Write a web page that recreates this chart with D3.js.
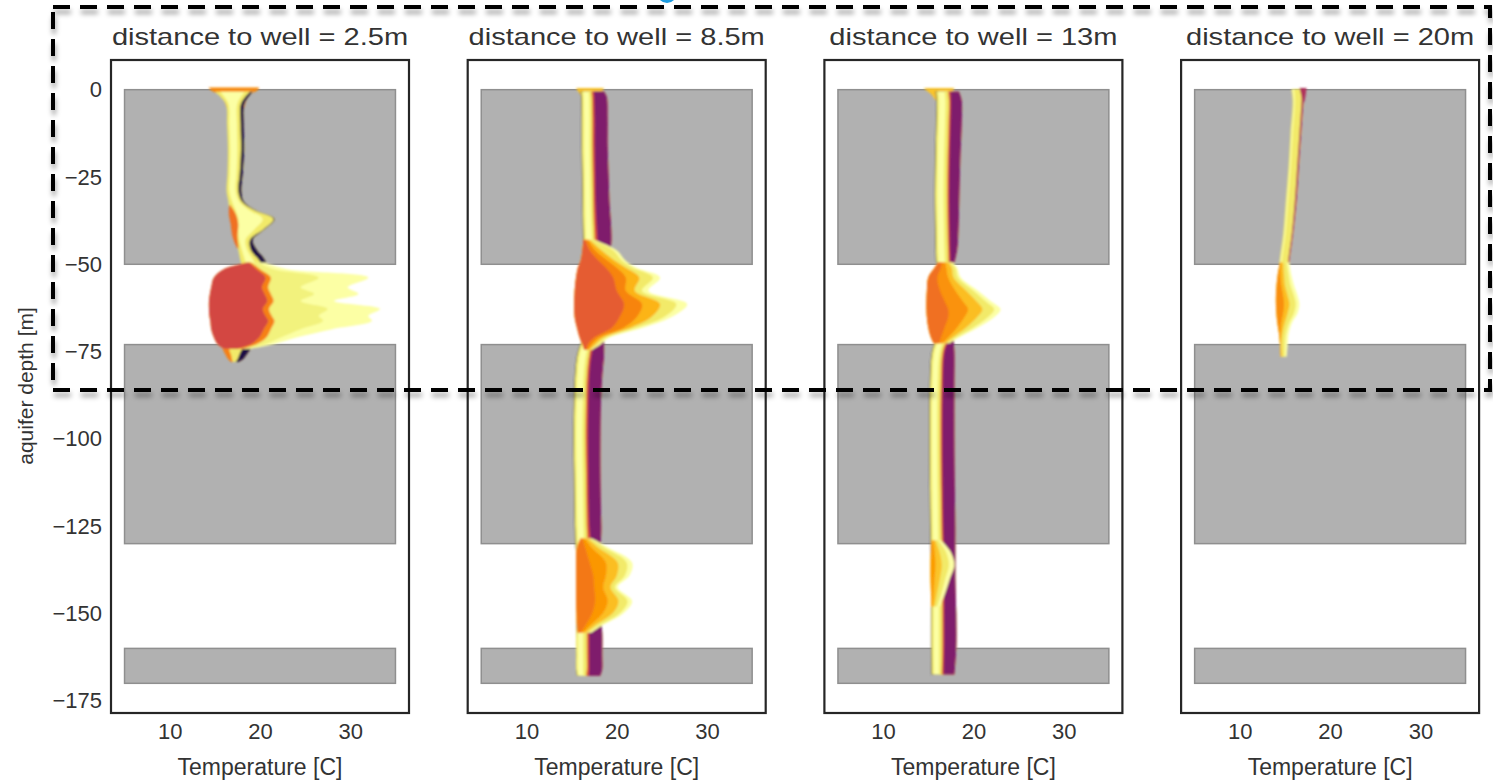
<!DOCTYPE html>
<html>
<head>
<meta charset="utf-8">
<script src="https://cdn.jsdelivr.net/npm/d3@7"></script>
<style>
  body { margin: 0; background: #fff; }
  svg { display: block; font-family: "Liberation Sans", Arial, sans-serif; }
</style>
</head>
<body>
<svg id="chart" width="1493" height="780"></svg>
<script>
// ---- data (temperature in C, depth in m) ----
const distances = ["2.5m", "8.5m", "13m", "20m"];
const clayLayers = [[0, -50], [-73, -130], [-160, -170]];
const depthTicks = [0, -25, -50, -75, -100, -125, -150, -175];
const tempTicks = [10, 20, 30];

// rows: [depth, edge0, edge1, ...]
// panel 1 (2.5 m)
const p1Flare = [[0.6, 14.3, 19.9], [0, 14.5, 19.8], [-1.2, 15.3, 19.0], [-3, 16.0, 18.5], [-5, 16.3, 18.3]];
const p1Column = [
  [-0.6, 15.0, 15.6, 18.3, 18.9, 19.2],
  [-4, 16.2, 16.5, 17.5, 17.9, 18.3],
  [-10, 16.35, 16.6, 17.45, 17.85, 18.2],
  [-17, 16.45, 16.7, 17.5, 17.9, 18.25],
  [-24, 16.4, 16.65, 17.4, 17.75, 18.1],
  [-29, 16.3, 16.6, 17.3, 17.6, 17.95],
  [-32, 16.5, 16.9, 17.7, 18.0, 18.2],
  [-34.5, 16.6, 17.3, 18.8, 19.4, 19.5],
  [-37, 16.8, 17.6, 20.3, 21.5, 21.6],
  [-40, 17.0, 17.6, 19.4, 20.4, 20.5],
  [-43, 17.3, 17.7, 18.4, 18.9, 19.2],
  [-46, 17.6, 18.0, 18.6, 19.0, 19.7],
  [-48.5, 17.8, 18.3, 19.2, 19.8, 20.5],
  [-50.5, 18.0, 18.6, 19.6, 20.3, 20.8]
];
const p1Patch = [[-33, 16.6, 16.7], [-35.5, 16.55, 17.3], [-38.5, 16.75, 17.6], [-42, 16.95, 17.5], [-44.5, 17.3, 17.6], [-45.5, 17.5, 17.6]];
const p1Blob = [
  [-49.5, 18.6, 18.8, 19.0, 19.8, 20.5],
  [-51.4, 16.0, 19.6, 20.0, 21.5, 23.0],
  [-53.8, 14.9, 20.6, 21.2, 26.5, 32.0],
  [-56.6, 14.6, 20.2, 20.9, 24.5, 29.7],
  [-58.5, 14.45, 20.5, 21.2, 26.0, 30.9],
  [-60.5, 14.35, 20.8, 21.5, 24.5, 28.2],
  [-62.8, 14.35, 20.3, 21.0, 27.5, 33.3],
  [-64.8, 14.4, 20.6, 21.3, 26.5, 32.0],
  [-66.2, 14.5, 20.9, 21.6, 27.0, 32.4],
  [-68.6, 14.6, 20.4, 21.2, 24.5, 28.0],
  [-71.0, 14.9, 19.9, 20.7, 22.3, 24.0],
  [-72.9, 15.3, 19.0, 19.6, 20.6, 21.5],
  [-74.2, 16.0, 17.5, 18.0, 18.6, 19.0]
];
const p1Tail = [
  [-72.5, 15.6, 16.6, 19.0, 19.3],
  [-74.5, 15.9, 16.6, 18.0, 18.9],
  [-76, 16.2, 16.8, 17.7, 18.5],
  [-77.3, 16.5, 16.9, 17.5, 18.1],
  [-78, 16.8, 17.0, 17.3, 17.6]
];

// panel 2 (8.5 m)
const p2Flare = [[0.5, 15.5, 18.6], [0, 15.6, 18.5], [-1.5, 16.0, 17.8], [-3, 16.1, 17.6]];
const p2ColumnTop = [
  [-0.5, 16.0, 16.05, 16.3, 16.9, 17.2, 17.45, 18.6],
  [-2, 16.05, 16.1, 16.35, 16.95, 17.25, 17.5, 18.9],
  [-8, 16.1, 16.15, 16.4, 17.0, 17.3, 17.55, 19.0],
  [-16, 16.1, 16.15, 16.4, 17.0, 17.3, 17.55, 19.0],
  [-24, 16.15, 16.2, 16.45, 17.05, 17.35, 17.6, 19.1],
  [-32, 16.2, 16.25, 16.5, 17.1, 17.4, 17.65, 19.2],
  [-40, 16.25, 16.3, 16.55, 17.2, 17.5, 17.8, 19.4],
  [-44, 16.3, 16.35, 16.6, 17.3, 17.6, 17.9, 19.4],
  [-47, 16.3, 16.35, 16.6, 17.4, 17.8, 18.1, 19.2],
  [-48.5, 16.3, 16.35, 16.6, 17.5, 17.9, 18.3, 18.9]
];
const p2Blob = [
  [-43, 16.3, 16.5, 16.8, 17.0, 17.3, 17.5],
  [-46, 16.2, 17.0, 17.6, 18.3, 19.6, 20.0],
  [-49, 16.0, 18.0, 19.0, 19.8, 20.6, 21.0],
  [-51, 15.7, 18.8, 20.0, 21.0, 21.8, 22.2],
  [-53.8, 15.5, 19.6, 21.0, 22.5, 24.0, 24.8],
  [-57.6, 15.35, 20.0, 21.0, 22.0, 22.8, 23.5],
  [-61.4, 15.3, 20.8, 22.8, 24.8, 26.6, 27.8],
  [-65.2, 15.35, 20.3, 22.2, 23.8, 25.2, 26.0],
  [-68.1, 15.6, 19.5, 20.8, 21.6, 22.3, 23.0],
  [-71, 15.9, 17.5, 18.0, 18.5, 18.9, 19.2],
  [-73, 16.2, 16.8, 17.2, 17.6, 18.0, 18.2],
  [-74.5, 16.4, 16.6, 16.8, 17.0, 17.2, 17.3]
];
const p2ColumnMid = [
  [-72, 16.1, 16.15, 16.4, 17.0, 17.3, 17.6, 18.6],
  [-76, 15.6, 15.65, 15.9, 16.6, 16.95, 17.2, 18.6],
  [-82, 15.35, 15.4, 15.65, 16.35, 16.7, 16.95, 18.4],
  [-90, 15.25, 15.3, 15.55, 16.25, 16.6, 16.85, 18.25],
  [-100, 15.2, 15.25, 15.5, 16.2, 16.55, 16.8, 18.2],
  [-110, 15.25, 15.3, 15.55, 16.25, 16.6, 16.85, 18.2],
  [-120, 15.3, 15.35, 15.6, 16.3, 16.65, 16.9, 18.25],
  [-126, 15.35, 15.4, 15.65, 16.35, 16.7, 17.0, 18.3],
  [-130, 15.4, 15.45, 15.7, 16.4, 16.8, 17.2, 18.2],
  [-132, 15.5, 15.55, 15.8, 16.5, 16.9, 17.5, 18.0]
];
const p2Blob2 = [
  [-128.5, 16.0, 16.2, 16.5, 16.8, 17.1, 17.3],
  [-131, 15.6, 16.5, 17.2, 17.9, 18.6, 19.0],
  [-135.4, 15.5, 17.0, 18.8, 20.1, 21.1, 21.7],
  [-139.2, 15.5, 17.4, 18.8, 20.0, 20.9, 21.4],
  [-142.5, 15.5, 17.5, 18.5, 19.3, 19.8, 20.1],
  [-146.4, 15.5, 17.6, 19.0, 20.2, 21.2, 21.7],
  [-149.8, 15.55, 17.3, 18.5, 19.6, 20.4, 20.8],
  [-153.6, 15.6, 16.5, 17.0, 17.5, 18.0, 18.3],
  [-155.5, 15.7, 16.0, 16.3, 16.6, 16.9, 17.2]
];
const p2ColumnLow = [
  [-151, 15.6, 15.6, 15.8, 16.4, 16.75, 17.0, 18.3],
  [-156, 15.5, 15.5, 15.7, 16.3, 16.7, 16.95, 18.4],
  [-162, 15.5, 15.5, 15.7, 16.3, 16.7, 16.95, 18.4],
  [-166, 15.5, 15.5, 15.7, 16.3, 16.7, 16.95, 18.4],
  [-167.8, 15.6, 15.6, 15.8, 16.3, 16.6, 16.9, 18.2]
];

// panel 3 (13 m)
const p3Flare = [[0.5, 14.5, 17.9], [0, 14.7, 17.8], [-1.5, 15.4, 17.4], [-3, 15.8, 17.2]];
const p3ColumnTop = [
  [-0.5, 15.8, 15.85, 16.1, 16.8, 17.2, 17.45, 18.4],
  [-3, 15.9, 15.95, 16.2, 16.9, 17.3, 17.5, 18.7],
  [-10, 15.85, 15.9, 16.15, 16.85, 17.25, 17.45, 18.7],
  [-20, 15.75, 15.8, 16.05, 16.75, 17.15, 17.35, 18.55],
  [-30, 15.7, 15.75, 16.0, 16.7, 17.1, 17.3, 18.45],
  [-40, 15.75, 15.8, 16.05, 16.75, 17.15, 17.35, 18.35],
  [-46, 15.8, 15.85, 16.1, 16.8, 17.2, 17.4, 18.2],
  [-49.5, 15.85, 15.9, 16.15, 16.85, 17.25, 17.45, 17.9]
];
const p3Blob = [
  [-49.5, 16.1, 16.5, 16.9, 17.2, 17.5, 17.7],
  [-51, 15.7, 16.4, 17.0, 17.6, 18.0, 18.2],
  [-53.8, 15.0, 16.0, 17.2, 17.8, 18.3, 18.6],
  [-57.6, 14.85, 16.3, 18.0, 19.2, 20.0, 20.5],
  [-60.5, 14.8, 16.8, 18.8, 20.3, 21.3, 21.9],
  [-62.9, 14.8, 17.2, 19.4, 21.0, 22.3, 23.0],
  [-65.2, 14.85, 17.2, 19.0, 20.4, 21.6, 22.3],
  [-68.1, 15.0, 16.8, 18.2, 19.2, 20.0, 20.5],
  [-71, 15.3, 16.4, 17.2, 17.7, 18.1, 18.4],
  [-72.6, 15.6, 16.2, 16.6, 16.9, 17.2, 17.4]
];
const p3ColumnLow = [
  [-71.5, 15.9, 15.95, 16.2, 16.8, 17.1, 17.3, 17.8],
  [-75, 15.4, 15.45, 15.7, 16.3, 16.6, 16.8, 17.9],
  [-85, 15.15, 15.2, 15.45, 16.05, 16.4, 16.6, 17.9],
  [-100, 15.1, 15.15, 15.4, 16.0, 16.35, 16.55, 17.9],
  [-115, 15.15, 15.2, 15.45, 16.05, 16.4, 16.6, 17.95],
  [-125, 15.2, 15.25, 15.5, 16.1, 16.45, 16.65, 18.0],
  [-130, 15.25, 15.3, 15.55, 16.15, 16.5, 16.7, 18.0],
  [-140, 15.3, 15.35, 15.6, 16.2, 16.55, 16.75, 18.0],
  [-150, 15.3, 15.35, 15.6, 16.2, 16.55, 16.75, 18.1],
  [-160, 15.3, 15.35, 15.6, 16.2, 16.55, 16.75, 18.1],
  [-167.5, 15.35, 15.4, 15.65, 16.2, 16.5, 16.7, 17.9]
];
const p3Bump = [
  [-129, 15.4, 15.6, 15.8, 16.1, 16.4],
  [-132, 15.3, 15.7, 16.2, 16.9, 17.4],
  [-136, 15.25, 15.8, 16.5, 17.3, 17.9],
  [-140, 15.25, 15.7, 16.3, 16.9, 17.4],
  [-144, 15.3, 15.6, 16.0, 16.5, 16.9],
  [-148, 15.35, 15.5, 15.7, 16.0, 16.3]
];

// panel 4 (20 m)
const p4Column = [
  [0.2, 15.7, 15.8, 16.0, 16.9, 17.3],
  [-3, 15.85, 15.95, 16.1, 16.85, 17.1],
  [-12.7, 15.6, 15.7, 15.85, 16.6, 16.8],
  [-22, 15.4, 15.5, 15.65, 16.35, 16.55],
  [-31.6, 15.1, 15.2, 15.35, 16.1, 16.3],
  [-41.4, 14.8, 14.9, 15.05, 15.75, 15.9],
  [-48, 14.45, 14.55, 14.7, 15.4, 15.55],
  [-51.5, 14.3, 14.4, 14.55, 15.3, 15.4]
];
const p4Cap = [[0.5, 16.6, 17.4], [-1.5, 16.8, 17.3], [-3.5, 16.95, 17.15]];
const p4Blob = [
  [-49.5, 14.45, 14.55, 14.8, 15.2, 15.5],
  [-53, 14.2, 14.5, 14.9, 15.4, 15.7],
  [-56, 14.07, 14.6, 15.0, 15.6, 16.0],
  [-59, 14.0, 14.8, 15.3, 16.0, 16.4],
  [-61.4, 14.0, 14.9, 15.5, 16.2, 16.6],
  [-64, 14.05, 14.8, 15.3, 16.0, 16.4],
  [-66.6, 14.15, 14.6, 15.0, 15.5, 15.8],
  [-70, 14.35, 14.5, 14.7, 15.1, 15.4],
  [-73, 14.45, 14.5, 14.6, 15.0, 15.3],
  [-76.5, 14.55, 14.6, 14.7, 15.0, 15.2]
];

// ---- layout ----
const panelW = 298, panelStep = 356.7, panelX0 = 111;
const plotTop = 60, plotBottom = 713;

const x = d3.scaleLinear().domain([3.5, 36.5]).range([0, panelW]);
const y = d3.scaleLinear().domain([8.5, -178.5]).range([plotTop, plotBottom]);

// band colours come from the inferno map (time snapshots)
const clayLv = [0.1, 0.94, 1, 0.94, 0.6, 0.35];
const panels = [
  { label: distances[0], segs: [
    [p1Flare, "stack", [0.74]],
    [p1Column, "stack", [0.94, 1, 0.94, 0.12]],
    [p1Patch, "stack", [0.68]],
    [p1Tail, "stack", [0.72, 0.94, 0.12]],
    [p1Blob, "nest", [0.57, 0.72, 0.96, 1]]
  ]},
  { label: distances[1], segs: [
    [p2Flare, "stack", [0.86]],
    [p2ColumnTop, "stack", clayLv],
    [p2ColumnMid, "stack", clayLv],
    [p2ColumnLow, "stack", clayLv],
    [p2Blob, "nest", [0.63, 0.73, 0.83, 0.94, 1]],
    [p2Blob2, "nest", [0.7, 0.77, 0.85, 0.94, 1]]
  ]},
  { label: distances[2], segs: [
    [p3Flare, "stack", [0.86]],
    [p3ColumnTop, "stack", clayLv],
    [p3ColumnLow, "stack", clayLv],
    [p3Blob, "nest", [0.68, 0.76, 0.85, 0.94, 1]],
    [p3Bump, "nest", [0.78, 0.86, 0.94, 1]]
  ]},
  { label: distances[3], segs: [
    [p4Column, "stack", [0.94, 1, 0.94, 0.47]],
    [p4Cap, "stack", [0.47]],
    [p4Blob, "nest", [0.75, 0.85, 0.94, 1]]
  ]}
];

const svg = d3.select("#chart");
const defs = svg.append("defs");

// drop shadow for the dashed frame
defs.append("filter")
  .attr("id", "shadow").attr("x", "-2%").attr("y", "-5%").attr("width", "104%").attr("height", "115%")
  .append("feDropShadow")
  .attr("dx", 1).attr("dy", 5).attr("stdDeviation", 2.5)
  .attr("flood-color", "#000").attr("flood-opacity", 0.35);

// soft edges like the scanned figure
defs.append("filter")
  .attr("id", "soft").attr("x", "-20%").attr("y", "-5%").attr("width", "140%").attr("height", "110%")
  .append("feGaussianBlur").attr("stdDeviation", 0.8);

function drawSegment(g, rows, mode, levels) {
  const n = levels.length;
  const order = mode === "nest" ? d3.range(n - 1, -1, -1) : d3.range(n);
  order.forEach(i => {
    const area = d3.area()
      .curve(d3.curveCatmullRom.alpha(0.5))
      .y(r => y(r[0]))
      .x0(r => x(mode === "nest" ? r[1] : r[1 + i]))
      .x1(r => x(mode === "nest" ? r[2 + i] : r[1 + n]));
    g.append("path").datum(rows).attr("d", area).attr("fill", d3.interpolateInferno(levels[i]));
  });
}

panels.forEach((p, i) => {
  const g = svg.append("g").attr("transform", `translate(${panelX0 + i * panelStep},0)`);

  // clay layers
  g.selectAll("rect.clay")
    .data(clayLayers)
    .enter()
    .append("rect")
    .attr("class", "clay")
    .attr("x", x(5))
    .attr("width", x(35) - x(5))
    .attr("y", d => y(d[0]))
    .attr("height", d => y(d[1]) - y(d[0]))
    .attr("fill", "#b1b1b1")
    .attr("stroke", "#8f8f8f")
    .attr("stroke-width", 1.5);

  const prof = g.append("g").attr("filter", "url(#soft)");
  p.segs.forEach(s => drawSegment(prof, s[0], s[1], s[2]));

  // frame
  g.append("rect")
    .attr("x", 0).attr("y", plotTop)
    .attr("width", panelW).attr("height", plotBottom - plotTop)
    .attr("fill", "none").attr("stroke", "#262626").attr("stroke-width", 2.2);

  // x axis
  const xa = g.append("g")
    .attr("transform", `translate(0,${plotBottom})`)
    .call(d3.axisBottom(x).tickValues(tempTicks).tickSize(0).tickPadding(10));
  xa.select(".domain").remove();
  xa.selectAll("text").attr("font-size", 22).attr("fill", "#333");

  g.append("text")
    .attr("x", panelW / 2).attr("y", 775)
    .attr("text-anchor", "middle")
    .attr("font-size", 23).attr("fill", "#333")
    .text("Temperature [C]");

  // title (wide letterforms in the original)
  const t = g.append("text")
    .attr("x", panelW / 2).attr("y", 45)
    .attr("text-anchor", "middle")
    .attr("font-size", 24).attr("fill", "#333")
    .text("distance to well = " + p.label);
  const w = t.node().getComputedTextLength();
  t.attr("textLength", w * 1.21).attr("lengthAdjust", "spacingAndGlyphs");

  if (i === 0) {
    const ya = g.append("g").call(d3.axisLeft(y).tickValues(depthTicks).tickSize(0).tickPadding(9));
    ya.select(".domain").remove();
    ya.selectAll("text").attr("font-size", 22).attr("fill", "#333");
  }
});

svg.append("text")
  .attr("transform", "translate(33,386) rotate(-90)")
  .attr("text-anchor", "middle")
  .attr("font-size", 21).attr("fill", "#333")
  .text("aquifer depth [m]");

// dashed highlight box
svg.append("rect")
  .attr("x", 53).attr("y", 7)
  .attr("width", 1490 - 53).attr("height", 390 - 7)
  .attr("fill", "none")
  .attr("stroke", "#000").attr("stroke-width", 4)
  .attr("stroke-dasharray", "17 10")
  .attr("filter", "url(#shadow)");

// small blue marker cut by the top edge
svg.append("circle")
  .attr("cx", 667).attr("cy", -7).attr("r", 10)
  .attr("fill", "#1c9be0");
</script>
</body>
</html>
